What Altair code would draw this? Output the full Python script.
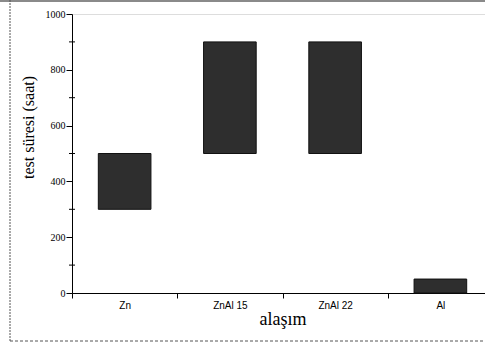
import altair as alt
import pandas as pd

# Test duration range (hours) for each alloy
alloys = ["Zn", "ZnAl 15", "ZnAl 22", "Al"]
low_hours = [300, 500, 500, 0]
high_hours = [500, 900, 900, 50]

y_major = [0, 200, 400, 600, 800, 1000]
y_minor = [100, 300, 500, 700, 900]

bars_df = pd.DataFrame({"alloy": alloys, "low": low_hours, "high": high_hours})
minor_df = pd.DataFrame({"v": y_minor})
frame_df = pd.DataFrame({"k": [0]})

PLOT_W, PLOT_H = 413, 279

x_enc = alt.X(
    "alloy:N",
    sort=alloys,
    scale=alt.Scale(range=[0, 421], paddingInner=0, paddingOuter=0),
    axis=alt.Axis(
        title="alaşım",
        tickBand="extent",
        labelAngle=0,
        labelFont="Liberation Sans",
        labelFontSize=10,
        labelColor="black",
        labelPadding=2,
        tickSize=5,
        tickColor="black",
        domainColor="black",
        titleFont="Liberation Serif",
        titleFontSize=18,
        titleFontWeight="normal",
        titleColor="black",
        titlePadding=0,
    ),
)

y_scale = alt.Scale(domain=[0, 1000], nice=False)

bars = alt.Chart(bars_df).mark_bar(
    color="#2e2e2e", stroke="#111111", strokeWidth=1, width={"band": 0.5}
).encode(
    x=x_enc,
    y=alt.Y(
        "low:Q",
        scale=y_scale,
        axis=alt.Axis(
            title="test süresi (saat)",
            values=y_major,
            format="d",
            grid=False,
            labelFont="Liberation Sans Narrow",
            labelFontSize=10,
            labelColor="black",
            labelPadding=1,
            tickSize=6,
            tickColor="black",
            domainColor="black",
            titleFont="Liberation Serif",
            titleFontSize=16,
            titleFontWeight="normal",
            titleColor="black",
            titlePadding=9,
            titleY=113,
        ),
    ),
    y2="high:Q",
)

# small in-between ticks across the value axis
minor = alt.Chart(minor_df).mark_rule(color="black", strokeWidth=1).encode(
    y=alt.Y("v:Q", scale=y_scale),
    x=alt.value(-3),
    x2=alt.value(3),
)

# page frame around the figure
frame_top = alt.Chart(frame_df).mark_rule(color="#8a8a8a", strokeWidth=2).encode(
    x=alt.value(-72), x2=alt.value(420), y=alt.value(-13)
)
frame_left = alt.Chart(frame_df).mark_rule(
    color="#555555", strokeWidth=1, strokeDash=[2, 1]
).encode(x=alt.value(-62), y=alt.value(-14), y2=alt.value(328))
frame_bottom = alt.Chart(frame_df).mark_rule(
    color="#555555", strokeWidth=1, strokeDash=[3, 2]
).encode(x=alt.value(-62), x2=alt.value(420), y=alt.value(327))

chart = alt.layer(bars, minor, frame_top, frame_left, frame_bottom).properties(
    width=PLOT_W,
    height=PLOT_H,
    autosize=alt.AutoSizeParams(type="none"),
    padding={"left": 72, "top": 14, "right": 0, "bottom": 50},
).configure_view(stroke=None).configure(background="white")

chart.save("out.html", embed_options={"renderer": "svg", "actions": False})
